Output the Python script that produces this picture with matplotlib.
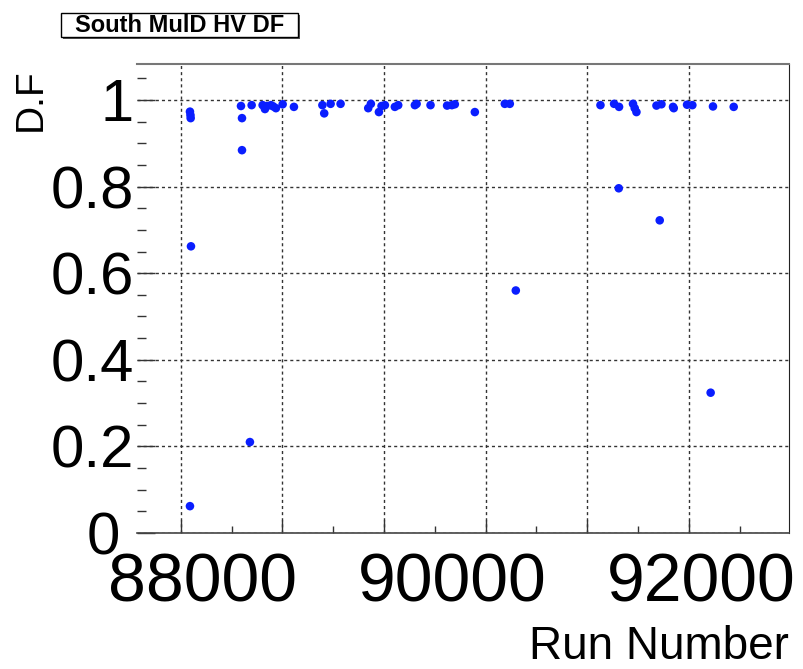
import matplotlib
matplotlib.use("Agg")
import matplotlib.pyplot as plt
import matplotlib.transforms as mtransforms
from matplotlib.patches import Rectangle
from matplotlib.ticker import MultipleLocator, NullFormatter

run_number = [88091, 88096, 88098, 88091, 88101, 88593, 88603, 88603, 88681, 88698,
              88806, 88829, 88849, 88888, 88911, 88937, 89003, 89114, 89394, 89412,
              89475, 89573, 89845, 89871, 89950, 89976, 90009, 90107, 90140, 90304,
              90321, 90458, 90621, 90668, 90697, 90894, 91189, 91238, 91297, 92130,
              92264, 92313, 92310, 92450, 92467, 92484, 92681, 92730, 92713, 92844,
              92851, 92982, 93034, 93214, 93237, 93441]
df_values = [0.973, 0.965, 0.958, 0.062, 0.662, 0.986, 0.958, 0.884, 0.210, 0.988,
             0.988, 0.979, 0.986, 0.988, 0.985, 0.981, 0.990, 0.984, 0.988, 0.969,
             0.991, 0.991, 0.981, 0.991, 0.972, 0.986, 0.988, 0.984, 0.988, 0.988,
             0.991, 0.988, 0.987, 0.988, 0.990, 0.972, 0.991, 0.991, 0.560, 0.988,
             0.991, 0.984, 0.796, 0.991, 0.981, 0.972, 0.987, 0.990, 0.722, 0.984,
             0.981, 0.989, 0.988, 0.324, 0.985, 0.984]

x_tick_values = [88000, 90000, 92000]
x_tick_labels = ["88000", "90000", "92000"]
y_tick_values = [0.0, 0.2, 0.4, 0.6, 0.8, 1.0]
y_tick_labels = ["0", "0.2", "0.4", "0.6", "0.8", "1"]
title_text = "South MulD HV DF"
x_label = "Run Number"
y_label = "D.F"

FONT = "Liberation Sans"

fig = plt.figure(figsize=(8.04, 6.69), dpi=100)
ax = fig.add_axes([137/804, 1-533/669, (789-137)/804, (533-64)/669])

ax.scatter(run_number, df_values, s=38, color="#0a1eff", edgecolors="none", zorder=3)

ax.set_xlim(87570, 93985)
ax.set_ylim(0.0, 1.083)

ax.xaxis.set_major_locator(MultipleLocator(1000))
ax.xaxis.set_minor_locator(MultipleLocator(500))
ax.yaxis.set_major_locator(MultipleLocator(0.2))
ax.yaxis.set_minor_locator(MultipleLocator(0.05))
ax.xaxis.set_major_formatter(NullFormatter())
ax.yaxis.set_major_formatter(NullFormatter())

ax.tick_params(axis="x", which="major", direction="in", length=9.5, width=1.0, color="#333333", top=False)
ax.tick_params(axis="x", which="minor", direction="in", length=5, width=1.0, color="#333333", top=False)
ax.tick_params(axis="y", which="major", direction="in", length=13, width=1.0, color="#333333", right=False)
ax.tick_params(axis="y", which="minor", direction="in", length=6.5, width=1.0, color="#333333", right=False)

ax.grid(True, which="major", color="#333333", linestyle=(0, (2.2, 2.2)), linewidth=1.0, zorder=1)

ax.spines["left"].set_visible(False)
ax.spines["top"].set_color("#777777")
ax.spines["top"].set_linewidth(1.5)
ax.spines["right"].set_color("#222222")
ax.spines["bottom"].set_color("#444444")
ax.spines["bottom"].set_linewidth(1.2)

# x tick labels (shifted to the right as in the reference rendering)
x_shift_px = [22, 68, 114]
xblend = mtransforms.blended_transform_factory(ax.transData, ax.transAxes)
for v, lab, sh in zip(x_tick_values, x_tick_labels, x_shift_px):
    tr = xblend + mtransforms.ScaledTranslation(sh/100, -19/100, fig.dpi_scale_trans)
    ax.text(v, 0, lab, transform=tr, ha="center", va="top", fontsize=49,
            family=FONT, clip_on=False)

# y tick labels
yblend = mtransforms.blended_transform_factory(ax.transAxes, ax.transData)
for v, lab in zip(y_tick_values, y_tick_labels):
    dx = 17 if lab == "0" else 3
    tr = yblend + mtransforms.ScaledTranslation(-dx/100, 0, fig.dpi_scale_trans)
    ax.text(0, v, lab, transform=tr, ha="right", va="center_baseline", fontsize=43,
            family=FONT, clip_on=False)

fig.text(789/804, 1-659/669, x_label, ha="right", va="baseline", fontsize=33, family=FONT)
fig.text(13/804, 1-68/669, y_label, ha="left", va="top", rotation=90, fontsize=28, family=FONT)

bx0, by0, bw, bh = 61/804, 1-37/669, (298-61)/804, (37-13)/669
shadow = Rectangle((bx0+2/804, by0-2/669), bw, bh, transform=fig.transFigure,
                   facecolor="#555555", edgecolor="none", zorder=1)
box = Rectangle((bx0, by0), bw, bh, transform=fig.transFigure,
                facecolor="white", edgecolor="black", linewidth=1.0, zorder=2)
fig.patches.extend([shadow, box])
fig.text(bx0+bw/2, by0+bh/2, title_text, ha="center", va="center", fontsize=17,
         fontweight="bold", family=FONT, zorder=3)

fig.savefig("out.png", dpi=100)
